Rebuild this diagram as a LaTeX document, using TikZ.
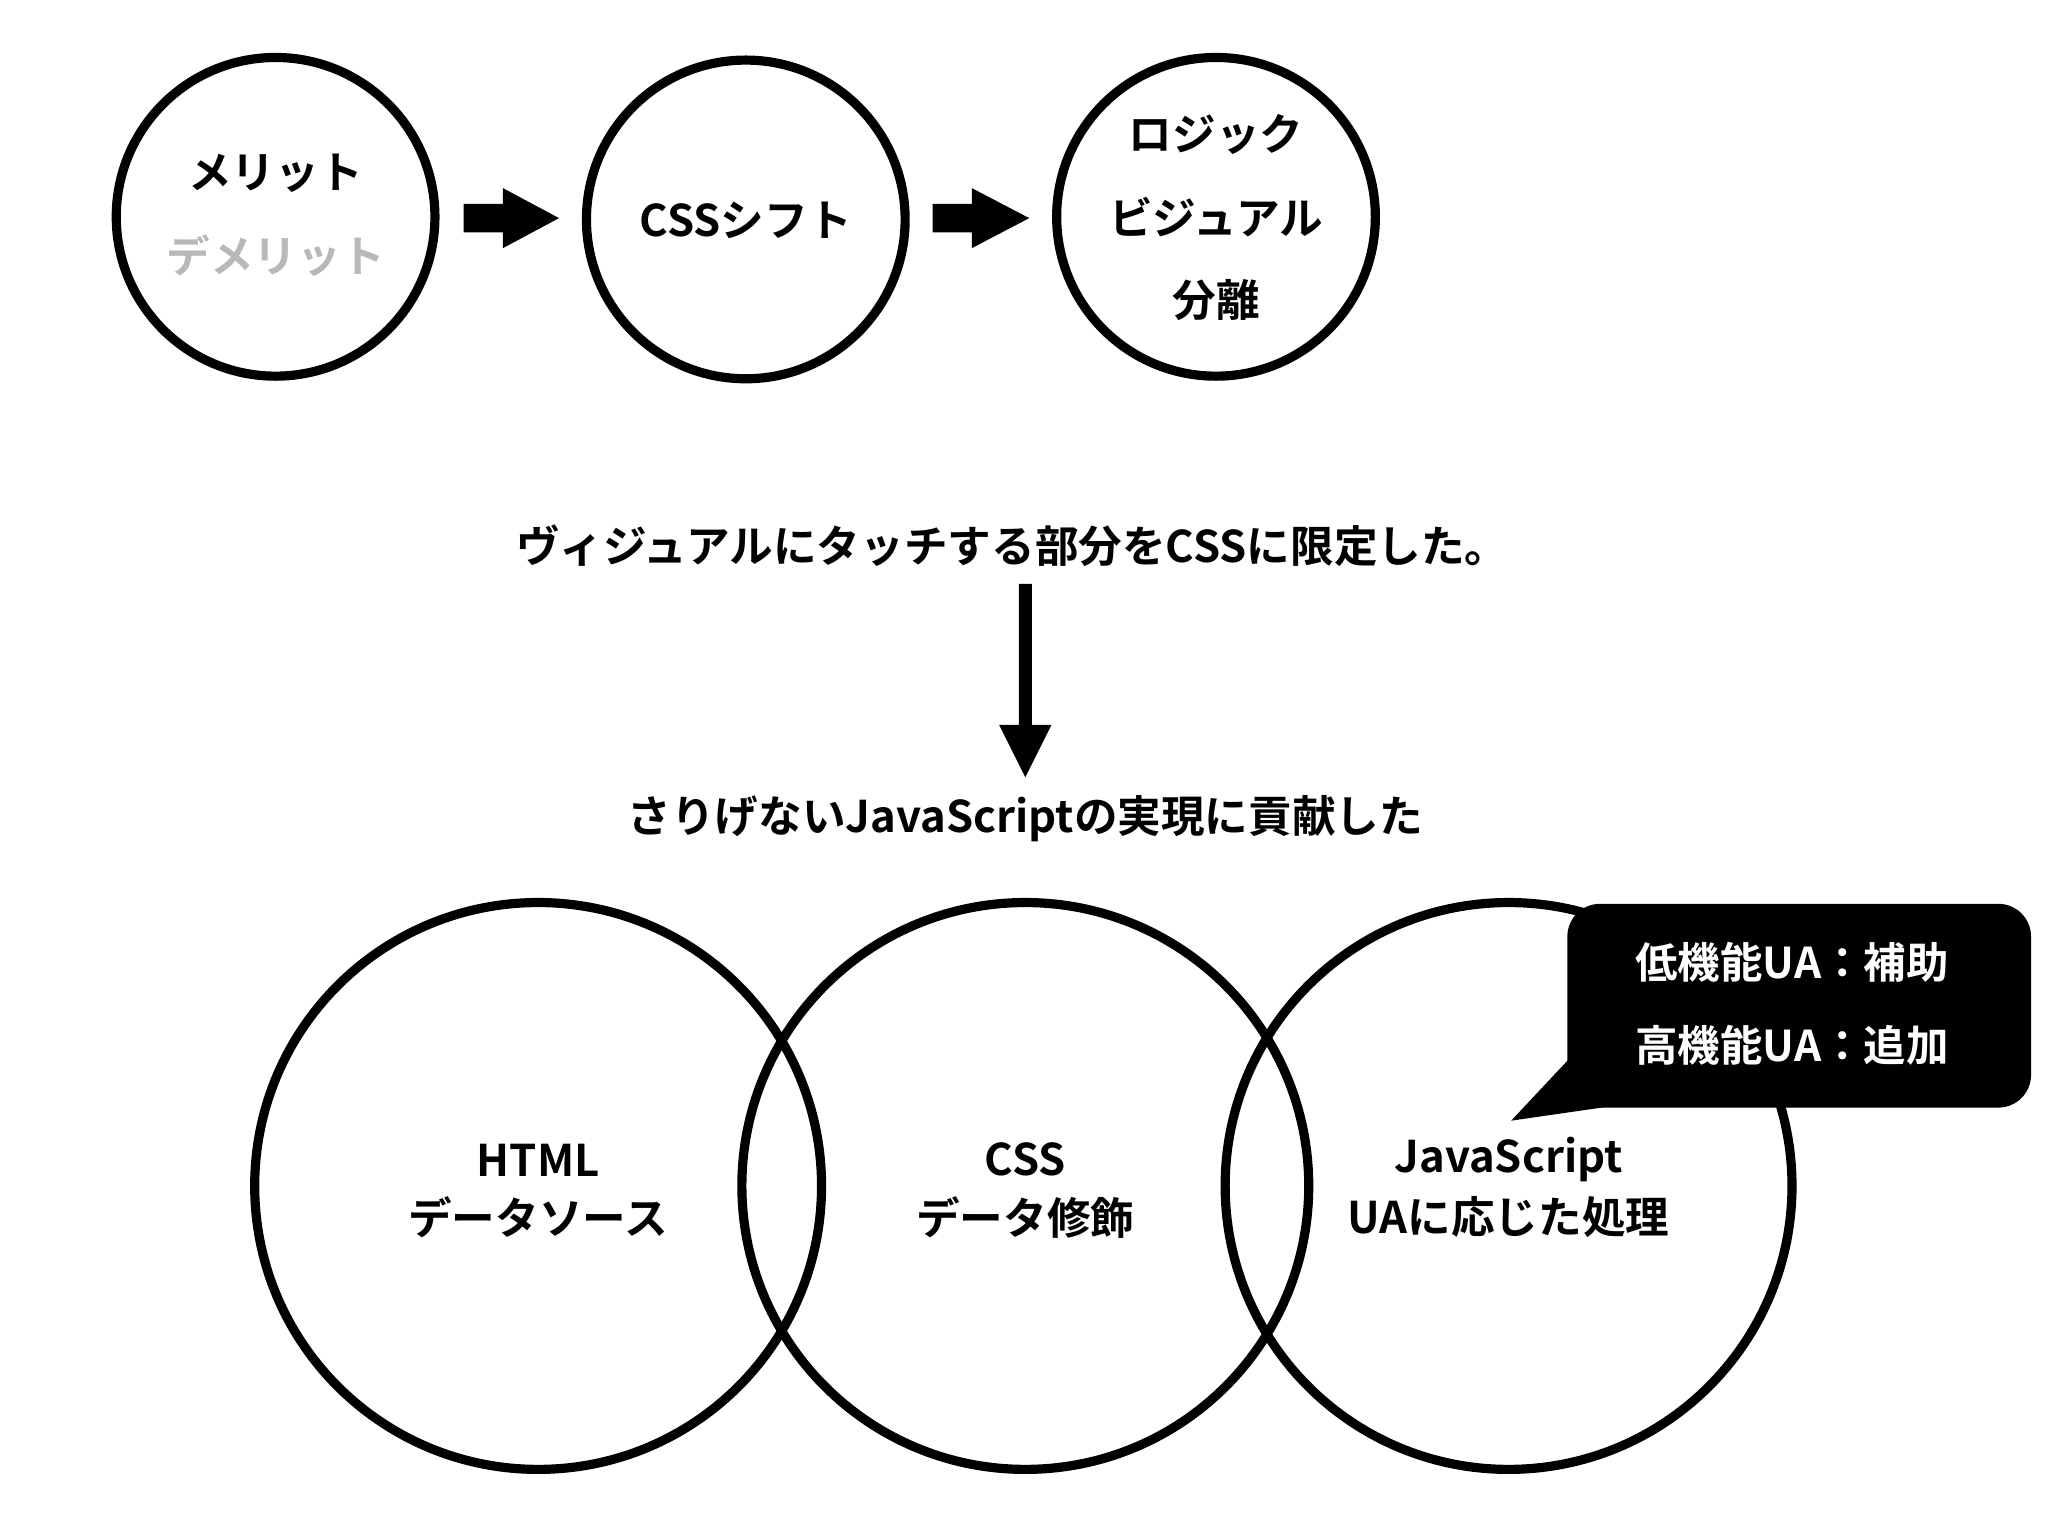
\documentclass[tikz,border=0pt]{standalone}
\usepackage{fontspec}
\setmainfont{Noto Sans CJK JP Bold}
\begin{document}
\begin{tikzpicture}[x=0.04cm,y=-0.04cm,
  circ/.style={draw=black,line width=8pt,circle},
  txt/.style={font=\fontsize{38}{44}\selectfont,inner sep=0},
  ctxt/.style={font=\fontsize{37}{44}\selectfont,inner sep=0,text=white},
  blk/.style={fill=black,draw=none}]
\useasboundingbox (0,0) rectangle (1568,1176);
% top circles
\node[circ,minimum size=244*0.04cm] (c1) at (211,166) {};
\node[circ,minimum size=244*0.04cm] (c2) at (571,168) {};
\node[circ,minimum size=244*0.04cm] (c3) at (931,166) {};
\node[txt] (t1a) at (211,133) {メリット};
\node[txt,text=black!28] (t1b) at (211,196) {デメリット};
\node[txt] (t2) at (571,169) {CSSシフト};
\node[txt] (t3a) at (931,103) {ロジック};
\node[txt] (t3b) at (931,166) {ビジュアル};
\node[txt] (t3c) at (931,230) {分離};
% block arrows
\fill[blk] (355,156) -- (385,156) -- (385,144) -- (428,167) -- (385,190) -- (385,178) -- (355,178) -- cycle;
\fill[blk] (714,156) -- (744,156) -- (744,144) -- (788,167) -- (744,190) -- (744,178) -- (714,178) -- cycle;
% middle
\node[txt] (m1) at (775,418) {ヴィジュアルにタッチする部分をCSSに限定した。};
\node[txt] (m2) at (785,627) {さりげないJavaScriptの実現に貢献した};
\fill[blk] (780,447) -- (790,447) -- (790,555) -- (805,555) -- (785,595) -- (765,555) -- (780,555) -- cycle;
% venn
\node[circ,minimum size=434*0.04cm] (v1) at (412,908) {};
\node[circ,minimum size=434*0.04cm] (v2) at (785,908) {};
\node[circ,minimum size=434*0.04cm] (v3) at (1155,908) {};
\node[txt] (h1) at (412,888) {HTML};
\node[txt] (h2) at (412,932) {データソース};
\node[txt] (s1) at (785,888) {CSS};
\node[txt] (s2) at (785,932) {データ修飾};
\node[txt] (j1) at (1155,888) {JavaScript};
\node[txt] (j2) at (1155,932) {UAに応じた処理};
% callout
\fill[blk,rounded corners=25*0.04cm] (1200,692) rectangle (1555,848);
\fill[blk] (1202,810) -- (1157,858) -- (1240,846) -- cycle;
\node[ctxt] (b1) at (1372,737) {低機能UA：補助};
\node[ctxt] (b2) at (1372,800) {高機能UA：追加};
\end{tikzpicture}
\end{document}
